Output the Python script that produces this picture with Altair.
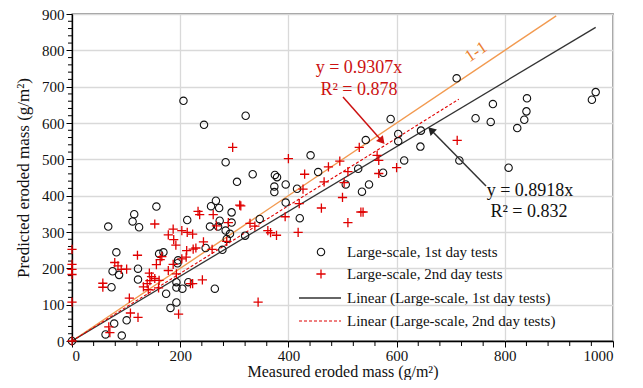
import altair as alt
import pandas as pd

# ---------------- data ----------------
day1_x = [0, 62, 92, 78, 101, 73, 75, 87, 82, 67, 122, 122, 115, 112, 124, 156, 161, 169, 196, 195,
          193, 193, 204, 215, 174, 182, 193, 264, 213, 206, 244, 321, 284, 334, 305, 375, 379, 395,
          374, 374, 441, 416, 266, 257, 272, 295, 273, 255, 270, 295, 347, 395, 421, 247, 278, 284,
          286, 292, 320, 536, 549, 455, 711, 589, 543, 603, 603, 645, 644, 614, 575, 529, 716, 746,
          778, 774, 841, 840, 836, 823, 807, 968, 961, 506]
day1_y = [0, 18, 15, 48, 57, 148, 192, 182, 244, 315, 199, 169, 349, 329, 313, 370, 240, 244, 222, 214,
          162, 147, 144, 162, 130, 91, 106, 144, 333, 661, 595, 620, 492, 459, 438, 457, 451, 431,
          425, 410, 511, 419, 386, 371, 366, 354, 331, 315, 315, 326, 336, 381, 338, 256, 251, 304,
          281, 295, 290, 411, 431, 465, 723, 611, 553, 570, 550, 579, 535, 497, 463, 474, 497, 613,
          652, 603, 668, 632, 609, 586, 477, 685, 664, 431]

day2_x = [0, 0, 0, 0, 0, 0, 68, 70, 108, 122, 106, 57, 57, 79, 85, 91, 101, 121, 132, 139, 144, 153,
          161, 141, 143, 147, 160, 153, 156, 163, 166, 178, 187, 193, 178, 188, 192, 187, 203, 213, 223,
          203, 211, 212, 224, 229, 243, 233, 236, 261, 267, 289, 310, 297, 259, 286, 329, 338, 362,
          367, 378, 394, 418, 420, 427, 430, 466, 461, 474, 495, 503, 500, 510, 510, 531, 564, 567,
          567, 600, 534, 538, 712, 344, 197, 219, 223, 241, 400, 312]
day2_y = [252, 211, 197, 183, 107, 0, 39, 23, 77, 65, 118, 159, 148, 216, 207, 197, 198, 236, 149, 158,
          166, 172, 167, 141, 187, 177, 146, 322, 210, 224, 232, 194, 211, 185, 292, 279, 264, 308,
          304, 299, 294, 226, 231, 249, 253, 256, 273, 357, 348, 348, 317, 326, 374, 533, 252, 274,
          324, 316, 304, 298, 291, 342, 299, 378, 418, 459, 438, 366, 479, 495, 436, 395, 466, 326,
          533, 511, 497, 461, 477, 355, 355, 552, 107, 74, 158, 158, 168, 502, 372]

fit1_x = [0, 968]
fit1_y = [0, 863.3]
fit2_x = [0, 715]
fit2_y = [0, 665.5]
one_x = [0, 895]
one_y = [0, 895]

x_major = [0, 200, 400, 600, 800, 1000]
y_major = [0, 100, 200, 300, 400, 500, 600, 700, 800, 900]
x_minor = [v for v in range(40, 1000, 40) if v % 200 != 0]
y_minor = [v for v in range(20, 900, 20) if v % 100 != 0]

legend_labels = ["Large-scale, 1st day tests", "Large-scale, 2nd day tests",
                 "Linear (Large-scale, 1st day tests)", "Linear (Large-scale, 2nd day tests)"]

# ---------------- styling ----------------
W, H = 541, 327
FONT = "Liberation Serif"
RED = "#e00000"
TXT_RED = "#cc1111"
ORANGE = "#f29a50"
ORANGE_TXT = "#ec8030"

xs = alt.Scale(domain=[0, 1000], nice=False, zero=False)
ys = alt.Scale(domain=[0, 900], nice=False, zero=False)

xaxis = alt.Axis(values=x_major, format="d", title="Measured eroded mass (g/m\u00b2)", grid=True,
                 gridColor="#d9d9d9", gridWidth=1.3, domainColor="#000", domainWidth=1.3,
                 tickColor="#000", tickSize=6, labelFont=FONT, labelFontSize=15, labelColor="#111",
                 labelPadding=1, titleFont=FONT, titleFontSize=16, titleFontWeight="normal",
                 titleColor="#111", titlePadding=0)
yaxis = alt.Axis(values=y_major, format="d", title="Predicted eroded mass (g/m\u00b2)", grid=True,
                 gridColor="#d9d9d9", gridWidth=1.3, domainColor="#000", domainWidth=1.3,
                 tickColor="#000", tickSize=6, labelFont=FONT, labelFontSize=15, labelColor="#111",
                 labelPadding=2, titleFont=FONT, titleFontSize=17, titleFontWeight="normal",
                 titleColor="#111", titlePadding=9)


def X(field):
    return alt.X(f"{field}:Q", scale=xs, axis=xaxis)


def Y(field):
    return alt.Y(f"{field}:Q", scale=ys, axis=yaxis)


df1 = pd.DataFrame({"x": day1_x, "y": day1_y})
df2 = pd.DataFrame({"x": day2_x, "y": day2_y})
dl1 = pd.DataFrame({"x": fit1_x, "y": fit1_y})
dl2 = pd.DataFrame({"x": fit2_x, "y": fit2_y})
dl0 = pd.DataFrame({"x": one_x, "y": one_y})

points1 = alt.Chart(df1).mark_point(shape="circle", filled=False, stroke="#111", strokeWidth=1.1,
                                    size=55, opacity=1).encode(x=X("x"), y=Y("y"))
PLUS = "M-1,0L1,0M0,-1L0,1"
points2 = alt.Chart(df2).mark_point(shape=PLUS, filled=False, stroke=RED, strokeWidth=1.3,
                                    size=85, opacity=1).encode(x=X("x"), y=Y("y"))
line_one = alt.Chart(dl0).mark_line(color=ORANGE, strokeWidth=1.4).encode(x=X("x"), y=Y("y"))
line1 = alt.Chart(dl1).mark_line(color="#333", strokeWidth=1.3).encode(x=X("x"), y=Y("y"))
line2 = alt.Chart(dl2).mark_line(color=RED, strokeWidth=1.1, strokeDash=[3, 2]).encode(x=X("x"), y=Y("y"))

xminor = alt.Chart(pd.DataFrame({"v": x_minor})).mark_rule(color="#000", strokeWidth=1).encode(
    x=X("v"), y=alt.value(H), y2=alt.value(H + 5))
yminor = alt.Chart(pd.DataFrame({"v": y_minor})).mark_rule(color="#000", strokeWidth=1).encode(
    y=Y("v"), x=alt.value(0), x2=alt.value(-4))


# annotations (pixel positions relative to the plot area)
def txt(s, x, y, color, size=18, angle=0):
    return alt.Chart(pd.DataFrame({"t": [s]})).mark_text(
        font=FONT, fontSize=size, color=color, align="center", baseline="middle", angle=angle
    ).encode(text="t:N", x=alt.value(x), y=alt.value(y))


def seg(x1, y1, x2, y2, color, width=1.4, dash=None):
    kw = dict(color=color, strokeWidth=width)
    if dash:
        kw["strokeDash"] = dash
    return alt.Chart(pd.DataFrame({"a": [0]})).mark_rule(**kw).encode(
        x=alt.value(x1), y=alt.value(y1), x2=alt.value(x2), y2=alt.value(y2))


def head(x, y, angle, color):
    return alt.Chart(pd.DataFrame({"a": [0]})).mark_point(
        shape="triangle-up", filled=True, color=color, size=80, angle=angle, opacity=1
    ).encode(x=alt.value(x), y=alt.value(y))


ann = [
    txt("y = 0.9307x", 287, 54, TXT_RED),
    txt("R\u00b2 = 0.878", 287, 76, TXT_RED),
    seg(271, 83, 309, 126, TXT_RED, 1.5),
    head(310, 127, 139, TXT_RED),
    txt("y = 0.8918x", 458, 177, "#111"),
    txt("R\u00b2 = 0.832", 457, 198, "#111"),
    seg(414, 172, 360, 117, "#333", 1.5),
    head(359, 116, 315, "#222"),
    txt("1-1", 404, 38, ORANGE_TXT, 17, 326),
]

# legend
LX_SYM, LX_TXT = 249, 275
rows = [238, 260, 284, 307]
legend = [
    alt.Chart(pd.DataFrame({"a": [0]})).mark_point(shape="circle", filled=False, stroke="#111",
                                                   strokeWidth=1.1, size=55, opacity=1).encode(
        x=alt.value(LX_SYM), y=alt.value(rows[0])),
    alt.Chart(pd.DataFrame({"a": [0]})).mark_point(shape=PLUS, filled=False, stroke=RED,
                                                   strokeWidth=1.3, size=85, opacity=1).encode(
        x=alt.value(LX_SYM), y=alt.value(rows[1])),
    seg(227, rows[2], 269, rows[2], "#333", 1.3),
    seg(227, rows[3], 269, rows[3], RED, 1.1, [3, 2]),
]
for lab, ry in zip(legend_labels, rows):
    legend.append(alt.Chart(pd.DataFrame({"t": [lab]})).mark_text(
        font=FONT, fontSize=15, color="#111", align="left", baseline="middle"
    ).encode(text="t:N", x=alt.value(LX_TXT), y=alt.value(ry)))

chart = alt.layer(
    xminor, yminor, line_one, line1, line2, points1, points2, *ann, *legend
).properties(
    width=W, height=H,
    autosize=alt.AutoSizeParams(type="none"),
    padding={"left": 64, "top": 6, "right": 22, "bottom": 39},
    background="white",
).configure_view(stroke="#333", strokeWidth=1.3)

chart.save("out.html", embed_options={"renderer": "svg", "actions": False})
